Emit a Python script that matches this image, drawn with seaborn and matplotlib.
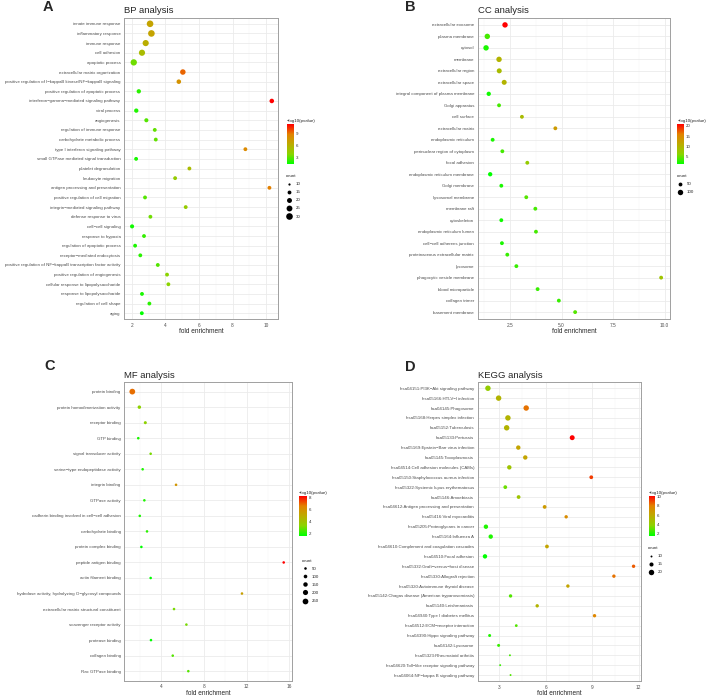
import numpy as np
import pandas as pd
import matplotlib
matplotlib.use("Agg")
import matplotlib.pyplot as plt
import seaborn as sns
from matplotlib.colors import LinearSegmentedColormap, Normalize
from matplotlib.cm import ScalarMappable
from matplotlib.lines import Line2D
from matplotlib.ticker import FixedLocator

sns.set_style("white")
plt.rcParams["font.family"] = ["Liberation Sans", "DejaVu Sans"]

# ---- BP analysis ----
bp_terms = [
    "innate immune response", "inflammatory response", "immune response", "cell adhesion",
    "apoptotic process", "extracellular matrix organization",
    "positive regulation of I−kappaB kinase/NF−kappaB signaling",
    "positive regulation of apoptotic process", "interferon−gamma−mediated signaling pathway",
    "viral process", "angiogenesis", "regulation of immune response",
    "carbohydrate metabolic process", "type I interferon signaling pathway",
    "small GTPase mediated signal transduction", "platelet degranulation", "leukocyte migration",
    "antigen processing and presentation", "positive regulation of cell migration",
    "integrin−mediated signaling pathway", "defense response to virus", "cell−cell signaling",
    "response to hypoxia", "regulation of apoptotic process", "receptor−mediated endocytosis",
    "positive regulation of NF−kappaB transcription factor activity",
    "positive regulation of angiogenesis", "cellular response to lipopolysaccharide",
    "response to lipopolysaccharide", "regulation of cell shape", "aging",
]
bp_fold = [3.09, 3.17, 2.83, 2.61, 2.12, 5.04, 4.80, 2.42, 10.33, 2.27, 2.87, 3.37, 3.43, 8.76,
           2.26, 5.43, 4.58, 10.19, 2.79, 5.21, 3.11, 2.02, 2.73, 2.20, 2.51, 3.55, 4.10, 4.18,
           2.61, 3.05, 2.60]
bp_logp = [6.8, 6.8, 6.2, 5.4, 3.4, 9.3, 7.8, 2.2, 11.2, 2.0, 2.9, 3.2, 3.2, 8.3, 1.9, 5.4, 4.4,
           8.8, 2.9, 4.4, 3.4, 1.75, 2.4, 1.95, 2.2, 2.9, 3.9, 3.9, 1.9, 2.2, 1.45]
bp_count = [30, 30, 27, 27, 28, 23, 18, 17, 18, 17, 16, 15, 15, 14, 14, 14, 15, 15, 15, 15, 15,
            16, 14, 15, 14, 13, 13, 13, 10, 9.5, 10]

# ---- CC analysis ----
cc_terms = [
    "extracellular exosome", "plasma membrane", "cytosol", "membrane", "extracellular region",
    "extracellular space", "integral component of plasma membrane", "Golgi apparatus",
    "cell surface", "extracellular matrix", "endoplasmic reticulum",
    "perinuclear region of cytoplasm", "focal adhesion", "endoplasmic reticulum membrane",
    "Golgi membrane", "lysosomal membrane", "membrane raft", "cytoskeleton",
    "endoplasmic reticulum lumen", "cell−cell adherens junction",
    "proteinaceous extracellular matrix", "lysosome", "phagocytic vesicle membrane",
    "blood microparticle", "collagen trimer", "basement membrane",
]
cc_fold = [2.26, 1.40, 1.34, 1.97, 1.98, 2.22, 1.47, 1.97, 3.08, 4.70, 1.66, 2.13, 3.34, 1.54,
           2.08, 3.29, 3.73, 2.08, 3.76, 2.11, 2.37, 2.81, 9.83, 3.84, 4.87, 5.66]
cc_logp = [20.8, 3.8, 2.4, 10.2, 9.2, 10.2, 2.0, 3.8, 9.2, 13.1, 2.4, 3.8, 7.3, 1.45, 2.4, 4.4,
           3.8, 2.0, 3.8, 2.4, 3.4, 3.4, 8.2, 3.4, 3.4, 4.4]
cc_count = [149, 129, 125, 101, 85, 85, 63, 50, 50, 33, 50, 41, 41, 63, 50, 41, 41, 41, 41, 33,
            33, 33, 24, 24, 13, 13]

# ---- MF analysis ----
mf_terms = [
    "protein binding", "protein homodimerization activity", "receptor binding", "GTP binding",
    "signal transducer activity", "serine−type endopeptidase activity", "integrin binding",
    "GTPase activity", "cadherin binding involved in cell−cell adhesion", "carbohydrate binding",
    "protein complex binding", "peptide antigen binding", "actin filament binding",
    "hydrolase activity, hydrolyzing O−glycosyl compounds",
    "extracellular matrix structural constituent", "scavenger receptor activity",
    "protease binding", "collagen binding", "Rac GTPase binding",
]
mf_fold = [1.28, 1.94, 2.50, 1.84, 3.00, 2.25, 5.38, 2.41, 1.98, 2.66, 2.13, 15.47, 3.00, 11.56,
           5.19, 6.35, 3.03, 5.07, 6.53]
mf_logp = [6.8, 3.4, 3.4, 2.05, 3.1, 2.05, 5.8, 2.05, 2.05, 2.2, 1.7, 8.17, 1.7, 5.4, 3.1, 3.1,
           1.7, 2.7, 2.7]
mf_count = [290, 90, 70, 52, 45, 50, 38, 50, 50, 38, 38, 27, 35, 25, 27, 25, 30, 25, 22]

# ---- KEGG analysis ----
kegg_terms = [
    "hsa04151:PI3K−Akt signaling pathway", "hsa05166:HTLV−I infection", "hsa04145:Phagosome",
    "hsa05168:Herpes simplex infection", "hsa05152:Tuberculosis", "hsa05133:Pertussis",
    "hsa05169:Epstein−Barr virus infection", "hsa05145:Toxoplasmosis",
    "hsa04514:Cell adhesion molecules (CAMs)", "hsa05150:Staphylococcus aureus infection",
    "hsa05322:Systemic lupus erythematosus", "hsa05146:Amoebiasis",
    "hsa04612:Antigen processing and presentation", "hsa05416:Viral myocarditis",
    "hsa05205:Proteoglycans in cancer", "hsa05164:Influenza A",
    "hsa04610:Complement and coagulation cascades", "hsa04510:Focal adhesion",
    "hsa05332:Graft−versus−host disease", "hsa05330:Allograft rejection",
    "hsa05320:Autoimmune thyroid disease", "hsa05142:Chagas disease (American trypanosomiasis)",
    "hsa05140:Leishmaniasis", "hsa04940:Type I diabetes mellitus",
    "hsa04512:ECM−receptor interaction", "hsa04390:Hippo signaling pathway",
    "hsa04142:Lysosome", "hsa05323:Rheumatoid arthritis",
    "hsa04620:Toll−like receptor signaling pathway", "hsa04064:NF−kappa B signaling pathway",
]
kegg_fold = [2.27, 2.96, 4.74, 3.56, 3.48, 7.71, 4.23, 4.68, 3.65, 8.94, 3.39, 4.25, 5.93, 7.32,
             2.14, 2.45, 6.08, 2.08, 11.67, 10.40, 7.43, 3.73, 5.45, 9.15, 4.10, 2.38, 2.96,
             3.69, 3.06, 3.73]
kegg_logp = [4.2, 5.5, 8.3, 5.5, 5.5, 10.2, 6.3, 6.3, 4.6, 9.2, 3.3, 4.6, 6.8, 7.5, 2.1, 2.1,
             6.3, 1.63, 8.7, 8.3, 6.3, 2.9, 5.5, 7.8, 2.9, 2.1, 2.5, 2.7, 2.5, 2.9]
kegg_count = [23, 22, 22, 20, 20, 18, 16, 16, 16, 14, 14, 14, 14, 13, 16, 16, 14, 16, 13, 13, 13,
              13, 13, 13, 11.5, 12, 12, 10, 9.5, 10]

W, H = 708, 697
fig = plt.figure(figsize=(W / 100, H / 100), dpi=100)

# ggplot-like green -> red gradient (interpolated through olive / orange)
cmap = LinearSegmentedColormap.from_list(
    "green_red", ["#00FF00", "#8BD400", "#BCAB00", "#E38200", "#FF0000"])
SIZE_SCALE = 1.35  # ggplot dots render a bit fuller than the raw point size


def px_box(x0, y0, x1, y1):
    return [x0 / W, 1 - y1 / H, (x1 - x0) / W, (y1 - y0) / H]


def draw_panel(box, letter_xy, letter, title, terms, fold, logp, count, xlim, major, minor,
               xfmt, size_norm, sizes, breaks, cbar_box, cbar_ticks, leg_xy):
    sizes = (sizes[0] * SIZE_SCALE, sizes[1] * SIZE_SCALE)
    ax = fig.add_axes(px_box(*box))
    df = pd.DataFrame({"term": terms, "fold": fold, "logp": logp, "count": count})
    hue_norm = (min(logp), max(logp))
    sns.scatterplot(data=df, x="fold", y="term", hue="logp", size="count", palette=cmap,
                    hue_norm=hue_norm, sizes=sizes, size_norm=size_norm, linewidth=0,
                    legend=False, ax=ax, zorder=3)
    n = len(terms)
    ax.set_ylim(n - 0.4, -0.6)
    ax.set_xlim(*xlim)
    ax.xaxis.set_major_locator(FixedLocator(major))
    ax.set_xticklabels([xfmt.format(v) for v in major])
    ax.xaxis.set_minor_locator(FixedLocator(minor))
    ax.grid(True, which="major", color="#EBEBEB", linewidth=0.6)
    ax.grid(True, which="minor", axis="x", color="#F4F4F4", linewidth=0.35)
    ax.set_axisbelow(True)
    for s in ax.spines.values():
        s.set_color("#A0A0A0")
        s.set_linewidth(0.7)
    ax.tick_params(which="major", length=1.6, width=0.4, color="#333333", labelsize=3.4,
                   labelcolor="#4D4D4D", pad=1)
    ax.tick_params(axis="y", labelsize=3.2)
    ax.tick_params(which="minor", length=0)
    ax.set_xlabel("fold enrichment", fontsize=4.7, labelpad=0.6)
    ax.set_ylabel("")
    ax.set_title(title, loc="left", fontsize=6.8, pad=3.4)
    fig.text(letter_xy[0] / W, 1 - letter_xy[1] / H, letter, fontsize=10.5,
             fontweight="bold", ha="left", va="top")

    # colour bar
    cax = fig.add_axes(px_box(*cbar_box))
    cb = fig.colorbar(ScalarMappable(norm=Normalize(*hue_norm), cmap=cmap), cax=cax,
                      ticks=cbar_ticks)
    cb.outline.set_visible(False)
    cax.yaxis.set_ticks_position("both")
    cax.tick_params(labelsize=3.2, length=1.3, width=0.4, color="white", direction="in",
                    pad=1.5, labelcolor="#333333")
    cax.set_title("−log10(pvalue)", fontsize=3.2, loc="left", pad=1.5)

    # size legend
    lo, hi = size_norm
    handles = [Line2D([], [], marker="o", linestyle="", color="black", markeredgewidth=0,
                      markersize=np.sqrt(sizes[0] + (b - lo) / (hi - lo) * (sizes[1] - sizes[0])))
               for b in breaks]
    fig.legend(handles, [str(b) for b in breaks], title="count", loc="upper left",
               bbox_to_anchor=(leg_xy[0] / W, 1 - leg_xy[1] / H), frameon=False,
               fontsize=3.2, title_fontsize=3.2, alignment="left", borderpad=0,
               borderaxespad=0, handlelength=1.5, handletextpad=0.75, labelspacing=0.9)


draw_panel((124, 18, 278, 319), (43, 0), "A", "BP analysis", bp_terms, bp_fold, bp_logp,
           bp_count, (1.54, 10.7), [2, 4, 6, 8, 10], [3, 5, 7, 9], "{:g}",
           (15, 30), (5.65, 16.85), [10, 15, 20, 25, 30],
           (286.7, 124.3, 294, 164), [3, 6, 9], (286, 174))
draw_panel((477.7, 18, 670, 319), (405, 0), "B", "CC analysis", cc_terms, cc_fold, cc_logp,
           cc_count, (0.935, 10.26), [2.5, 5.0, 7.5, 10.0], [1.25, 3.75, 6.25, 8.75],
           "{:.1f}", (50, 100), (5.65, 11.3), [50, 100],
           (677.3, 124, 684, 164.3), [5, 10, 15, 20], (677, 174))
draw_panel((124.3, 382.3, 291.7, 680.5), (44, 359), "C", "MF analysis", mf_terms, mf_fold,
           mf_logp, mf_count, (0.53, 16.22), [4, 8, 12, 16], [2, 6, 10, 14], "{:g}",
           (50, 250), (2.54, 12.7), [50, 100, 150, 200, 250],
           (299, 496, 307, 535.7), [2, 4, 6, 8], (302, 558.5))
draw_panel((477.7, 382.3, 641, 681), (405, 360), "D", "KEGG analysis", kegg_terms,
           kegg_fold, kegg_logp, kegg_count, (1.61, 12.15), [3, 6, 9, 12], [4.5, 7.5, 10.5],
           "{:g}", (10, 20), (1.45, 11.4), [10, 15, 20],
           (648.7, 495.7, 655, 535.7), [2, 4, 6, 8, 10], (648, 546))

fig.savefig("out.png", dpi=100)
